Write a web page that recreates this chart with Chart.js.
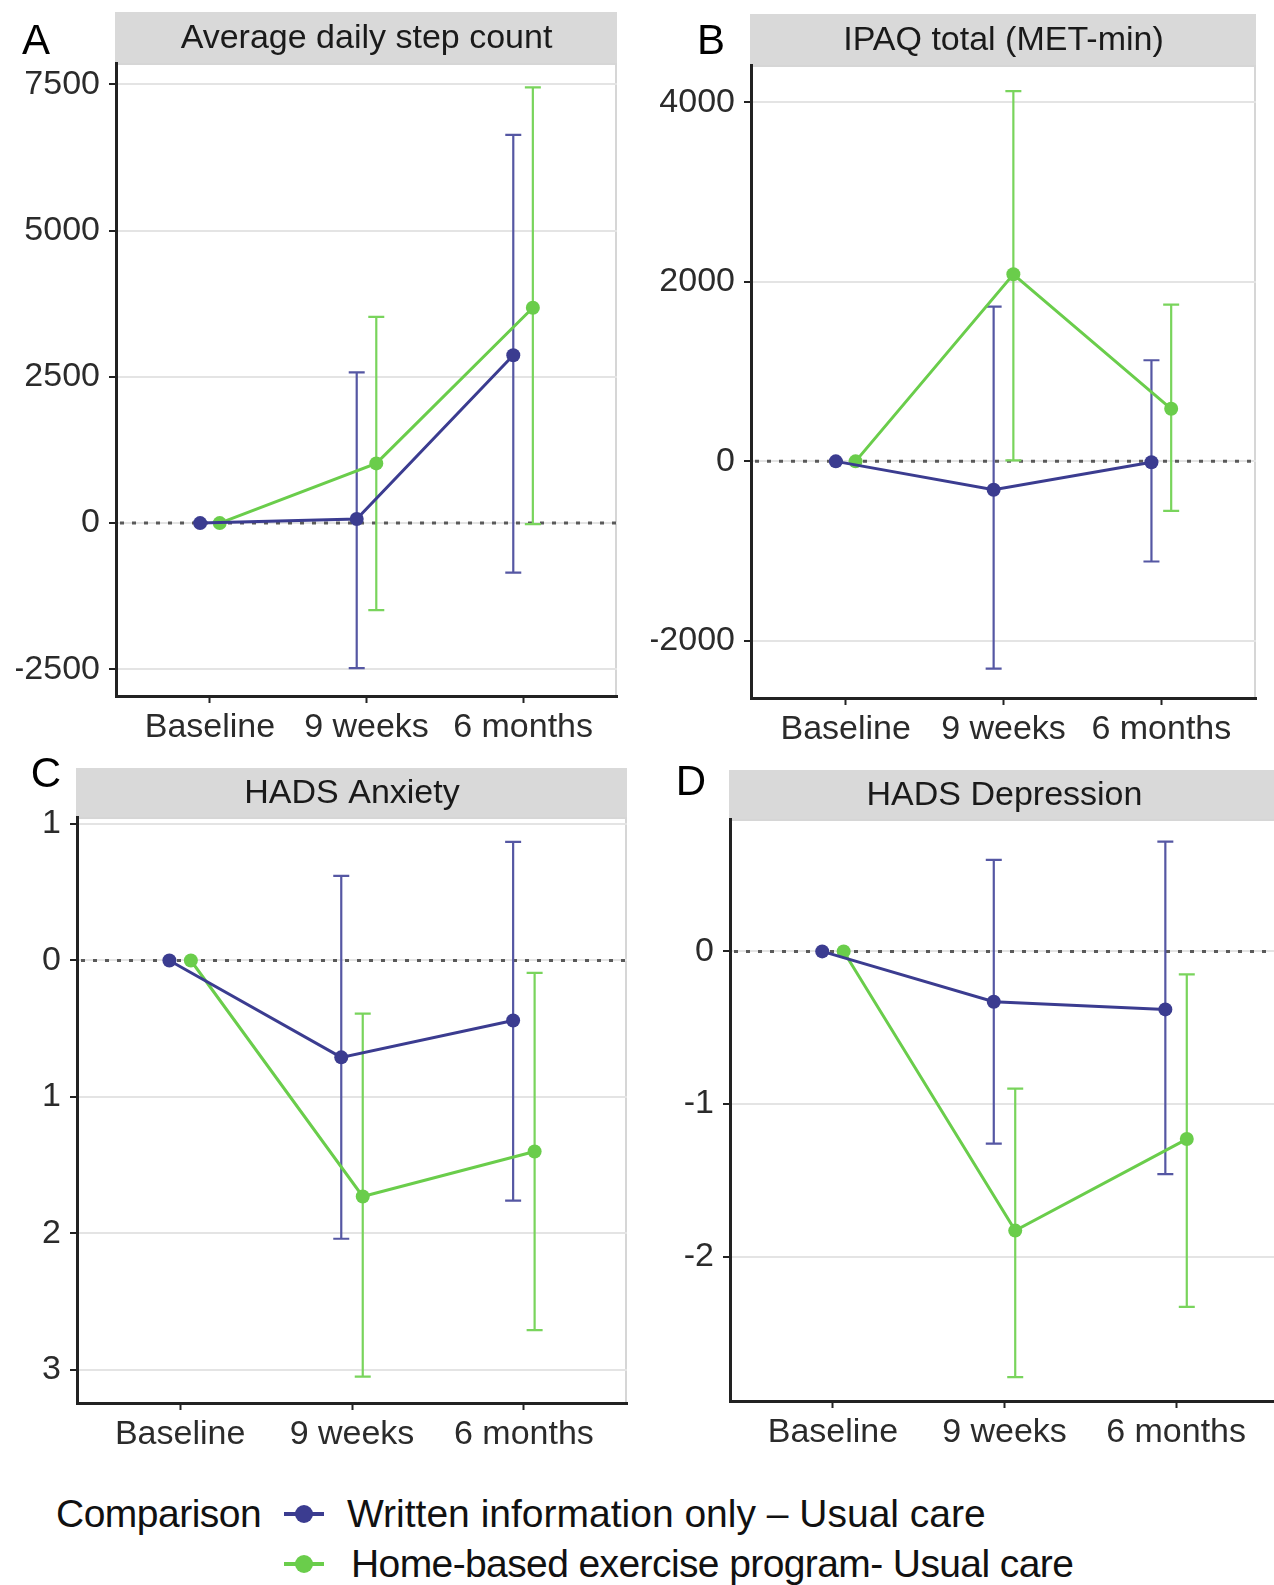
<!DOCTYPE html>
<html>
<head>
<meta charset="utf-8">
<script src="https://cdn.jsdelivr.net/npm/chart.js@4.4.1/dist/chart.umd.min.js"></script>
<style>
  body { margin: 0; width: 1274px; height: 1585px; overflow: hidden; background: #fff; position: relative; font-family: "Liberation Sans", Arial, sans-serif; }
  canvas { position: absolute; }
  .leg { position: absolute; font-size: 39px; line-height: 40px; color: #111; white-space: nowrap; }
  .key { position: absolute; width: 40px; height: 4px; }
  .key i { position: absolute; left: 11px; top: -7px; width: 18px; height: 18px; border-radius: 50%; }
</style>
</head>
<body>
<canvas id="cA"></canvas>
<canvas id="cB"></canvas>
<canvas id="cC"></canvas>
<canvas id="cD"></canvas>

<div class="leg" style="left:56px;top:1494px;letter-spacing:-0.5px">Comparison</div>
<div class="key" id="k1" style="left:284px;top:1512px"><i></i></div>
<div class="leg" id="l1" style="left:347px;top:1494px"></div>
<div class="key" id="k2" style="left:284px;top:1562px"><i></i></div>
<div class="leg" id="l2" style="left:351px;top:1544px;letter-spacing:-0.6px"></div>

<script>
// categories + series names
const timepoints = ['Baseline', '9 weeks', '6 months'];
const seriesNames = ['Written information only – Usual care', 'Home-based exercise program- Usual care'];
const panelTitles = ['Average daily step count', 'IPAQ total (MET-min)', 'HADS Anxiety', 'HADS Depression'];
const panelLetters = ['A', 'B', 'C', 'D'];

// A - steps
const stepsWritten   = [0, 69, 2868];
const stepsWrittenLo = [0, -2480, -847];
const stepsWrittenHi = [0, 2575, 6636];
const stepsHome      = [0, 1020, 3681];
const stepsHomeLo    = [0, -1486, -17];
const stepsHomeHi    = [0, 3525, 7448];
const stepsTicks     = [-2500, 0, 2500, 5000, 7500];
const stepsRange     = [-2955, 7863];

// B - IPAQ
const ipaqWritten   = [0, -316, -10];
const ipaqWrittenLo = [0, -2310, -1116];
const ipaqWrittenHi = [0, 1724, 1127];
const ipaqHome      = [0, 2085, 586];
const ipaqHomeLo    = [0, 10, -552];
const ipaqHomeHi    = [0, 4125, 1747];
const ipaqTicks     = [-2000, 0, 2000, 4000];
const ipaqRange     = [-2637, 4417];

// C - anxiety (tick labels as printed, minus signs missing)
const anxWritten   = [0, -0.71, -0.44];
const anxWrittenLo = [0, -2.04, -1.76];
const anxWrittenHi = [0, 0.62, 0.87];
const anxHome      = [0, -1.73, -1.40];
const anxHomeLo    = [0, -3.05, -2.71];
const anxHomeHi    = [0, -0.39, -0.09];
const anxTicks      = [-3, -2, -1, 0, 1];
const anxTickLabels = ['3', '2', '1', '0', '1'];
const anxRange      = [-3.244, 1.052];

// D - depression
const depWritten   = [0, -0.33, -0.38];
const depWrittenLo = [0, -1.26, -1.46];
const depWrittenHi = [0, 0.60, 0.72];
const depHome      = [0, -1.83, -1.23];
const depHomeLo    = [0, -2.79, -2.33];
const depHomeHi    = [0, -0.90, -0.15];
const depTicks     = [-2, -1, 0];
const depRange     = [-2.947, 0.868];

const BLUE = '#3b3c90';
const GREEN = '#6acd4b';
const FONT = '"Liberation Sans", Arial, sans-serif';
const DODGE = 0.0625;

document.getElementById('l1').textContent = seriesNames[0];
document.getElementById('l2').textContent = seriesNames[1];
[['k1', BLUE], ['k2', GREEN]].forEach(([id, c]) => {
  const k = document.getElementById(id);
  k.style.background = c;
  k.querySelector('i').style.background = c;
});

// strip, letter, border, zero line, error bars
const deco = {
  id: 'deco',
  beforeDraw(chart, args, o) {
    const ctx = chart.ctx, a = chart.chartArea;
    ctx.save();
    ctx.fillStyle = '#d9d9d9';
    ctx.fillRect(a.left - 1, o.stripTop, a.right - a.left + 1, a.top - o.stripTop);
    ctx.fillStyle = '#1a1a1a';
    ctx.font = '34px ' + FONT;
    ctx.textAlign = 'center';
    ctx.textBaseline = 'middle';
    ctx.fillText(o.title, (a.left + a.right) / 2, (o.stripTop + a.top) / 2 + 1);
    ctx.fillStyle = '#000';
    ctx.font = '42px ' + FONT;
    ctx.fillText(o.letter, o.letterX, o.letterY);
    ctx.strokeStyle = '#d6d6d6';
    ctx.lineWidth = 2;
    ctx.beginPath();
    ctx.moveTo(a.left, a.top + 1);
    ctx.lineTo(a.right - 1, a.top + 1);
    ctx.lineTo(a.right - 1, a.bottom);
    ctx.stroke();
    ctx.restore();
  },
  beforeDatasetsDraw(chart) {
    const ctx = chart.ctx, a = chart.chartArea, ys = chart.scales.y;
    ctx.save();
    const y0 = ys.getPixelForValue(0);
    ctx.strokeStyle = '#5a5a5a';
    ctx.lineWidth = 3;
    ctx.setLineDash([4, 8]);
    ctx.beginPath();
    ctx.moveTo(a.left + 4, y0);
    ctx.lineTo(a.right, y0);
    ctx.stroke();
    ctx.setLineDash([]);
    chart.data.datasets.forEach((ds, i) => {
      const meta = chart.getDatasetMeta(i);
      ctx.strokeStyle = ds.barColor;
      ctx.lineWidth = 2.2;
      meta.data.forEach((pt, j) => {
        if (ds.errLo[j] === ds.errHi[j]) return;
        const yl = ys.getPixelForValue(ds.errLo[j]);
        const yh = ys.getPixelForValue(ds.errHi[j]);
        ctx.beginPath();
        ctx.moveTo(pt.x, yl); ctx.lineTo(pt.x, yh);
        ctx.moveTo(pt.x - 8, yl); ctx.lineTo(pt.x + 8, yl);
        ctx.moveTo(pt.x - 8, yh); ctx.lineTo(pt.x + 8, yh);
        ctx.stroke();
      });
    });
    ctx.restore();
  }
};

function series(vals, lo, hi, color, barColor, shift) {
  return {
    data: vals.map((v, i) => ({ x: i + 1 + shift, y: v })),
    errLo: lo, errHi: hi, barColor: barColor,
    borderColor: color, backgroundColor: color,
    borderWidth: 3, pointRadius: 7, pointBorderWidth: 0,
    pointBackgroundColor: color, tension: 0, clip: false
  };
}

function makePanel(id, box, plot, p) {
  const cv = document.getElementById(id);
  cv.width = box.w; cv.height = box.h;
  cv.style.left = box.x + 'px'; cv.style.top = box.y + 'px';
  const xH = 60;
  return new Chart(cv, {
    type: 'line',
    data: { datasets: [
      series(p.a, p.aLo, p.aHi, BLUE, '#5557a3', -DODGE),
      series(p.b, p.bLo, p.bHi, GREEN, '#79d45c', DODGE)
    ] },
    options: {
      responsive: false, animation: false, devicePixelRatio: 1,
      layout: { padding: {
        left: plot.l - box.x - p.yW,
        top: plot.t - box.y,
        right: box.x + box.w - plot.r,
        bottom: box.y + box.h - plot.b - xH
      } },
      plugins: {
        legend: { display: false },
        tooltip: { enabled: false },
        deco: { title: p.title, letter: p.letter, letterX: p.lx - box.x, letterY: p.ly - box.y, stripTop: p.stripTop - box.y }
      },
      scales: {
        x: {
          type: 'linear', min: 0.4, max: 3.6,
          afterBuildTicks: s => { s.ticks = timepoints.map((t, i) => ({ value: i + 1 })); },
          afterFit: s => { s.height = xH; },
          ticks: { callback: v => timepoints[v - 1], font: { size: 34, family: FONT }, color: '#2b2b2b', padding: 4, autoSkip: false, maxRotation: 0 },
          grid: { drawOnChartArea: false, tickColor: '#222', tickLength: 7, tickWidth: 2 },
          border: { color: '#222', width: 3 }
        },
        y: {
          min: p.range[0], max: p.range[1],
          afterBuildTicks: s => { s.ticks = p.ticks.map(v => ({ value: v })); },
          afterFit: s => { s.width = p.yW; },
          ticks: { callback: (v, i) => p.labels[i], font: { size: 34, family: FONT }, color: '#2b2b2b', padding: 9 },
          grid: { color: '#e4e4e4', lineWidth: 2, tickColor: '#222', tickLength: 7, tickWidth: 2 },
          border: { color: '#222', width: 3 }
        }
      }
    },
    plugins: [deco]
  });
}

makePanel('cA', { x: 0, y: 0, w: 637, h: 770 }, { l: 116, r: 617, t: 63, b: 696 }, {
  a: stepsWritten, aLo: stepsWrittenLo, aHi: stepsWrittenHi,
  b: stepsHome, bLo: stepsHomeLo, bHi: stepsHomeHi,
  ticks: stepsTicks, labels: stepsTicks.map(String), range: stepsRange,
  title: panelTitles[0], letter: panelLetters[0], lx: 36, ly: 42, stripTop: 12, yW: 100
});
makePanel('cB', { x: 637, y: 0, w: 637, h: 770 }, { l: 751, r: 1256, t: 65, b: 698 }, {
  a: ipaqWritten, aLo: ipaqWrittenLo, aHi: ipaqWrittenHi,
  b: ipaqHome, bLo: ipaqHomeLo, bHi: ipaqHomeHi,
  ticks: ipaqTicks, labels: ipaqTicks.map(String), range: ipaqRange,
  title: panelTitles[1], letter: panelLetters[1], lx: 711, ly: 42, stripTop: 14, yW: 100
});
makePanel('cC', { x: 0, y: 745, w: 637, h: 720 }, { l: 77, r: 627, t: 817, b: 1403 }, {
  a: anxWritten, aLo: anxWrittenLo, aHi: anxWrittenHi,
  b: anxHome, bLo: anxHomeLo, bHi: anxHomeHi,
  ticks: anxTicks, labels: anxTickLabels, range: anxRange,
  title: panelTitles[2], letter: panelLetters[2], lx: 46, ly: 775, stripTop: 768, yW: 60
});
makePanel('cD', { x: 637, y: 745, w: 660, h: 720 }, { l: 730, r: 1279, t: 819, b: 1401 }, {
  a: depWritten, aLo: depWrittenLo, aHi: depWrittenHi,
  b: depHome, bLo: depHomeLo, bHi: depHomeHi,
  ticks: depTicks, labels: depTicks.map(String), range: depRange,
  title: panelTitles[3], letter: panelLetters[3], lx: 691, ly: 783, stripTop: 770, yW: 60
});
</script>
</body>
</html>
